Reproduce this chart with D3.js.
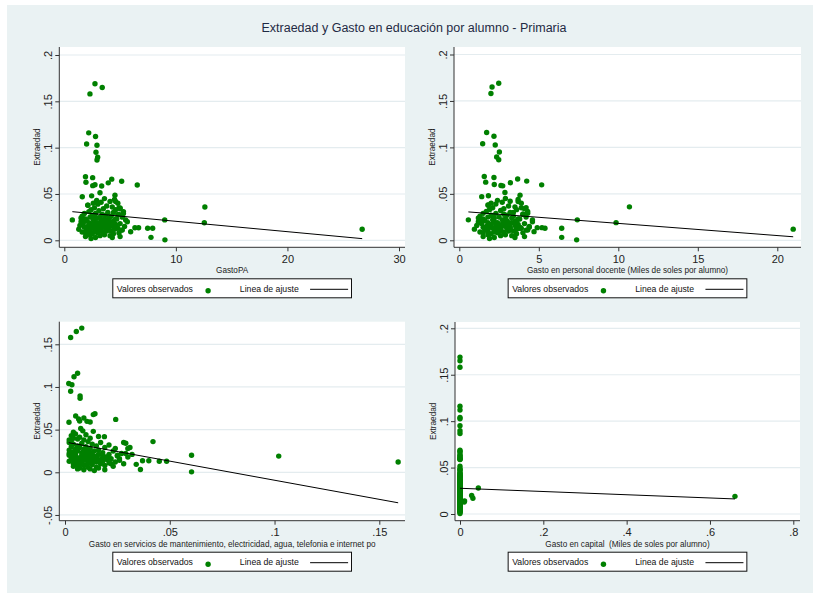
<!DOCTYPE html>
<html><head><meta charset="utf-8">
<script src="https://cdn.jsdelivr.net/npm/d3@7"></script>
<style>
body{margin:0;background:#fff}
svg{display:block}
text{font-family:"Liberation Sans",Arial,Helvetica,sans-serif;white-space:pre}
</style>
</head><body>
<svg id="chart" width="813" height="593"></svg>
<script>
// ---------------- DATA ----------------
const chartTitle = "Extraedad y Gasto en educación por alumno - Primaria";
const yTitle = "Extraedad";
const xTitles = [
  "GastoPA",
  "Gasto en personal docente (Miles de soles por alumno)",
  "Gasto en servicios de mantenimiento, electricidad, agua, telefonia e internet po",
  "Gasto en capital  (Miles de soles por alumno)"
];
const legendLabels = ["Valores observados", "Linea de ajuste"];

const xTicks1 = [0, 10, 20, 30];
const xTicks2 = [0, 5, 10, 15, 20];
const xTicks3 = [0, 0.05, 0.1, 0.15];
const xTicks4 = [0, 0.2, 0.4, 0.6, 0.8];
const yTicksA = [0, 0.05, 0.1, 0.15, 0.2];
const yTicksB = [-0.05, 0, 0.05, 0.1, 0.15];

// Extraedad (y) – shared by the four panels
const extraedad = [
 0.169,0.165,0.158,0.116,0.112,0.104,0.1026,0.095,0.0896,0.0867,
 0.0687,0.0676,0.066,0.0637,0.0626,0.062,0.0597,0.060,0.0586,0.059,
 0.047,0.048,0.0486,0.0514,0.0378,0.036,0.022,0.022,0.019,0.012,
 0.013,0.013,0.0032,0.0005,0.020,0.028,0.020,0.017,0.013,0.0093,
 0.0136,0.0136,0.035,0.034,0.029,0.0418,0.014,
 0.045,0.044,0.043,0.042,0.041,0.040,0.040,0.039,0.038,0.037,
 0.036,0.035,0.035,0.034,0.033,0.033,0.032,0.031,0.031,0.030,
 0.030,0.029,0.029,0.028,0.028,0.027,0.027,0.026,0.026,0.025,
 0.025,0.025,0.024,0.024,0.023,0.023,0.023,0.022,0.022,0.022,
 0.021,0.021,0.021,0.020,0.020,0.020,0.019,0.019,0.019,0.018,
 0.018,0.018,0.017,0.017,0.017,0.016,0.016,0.016,0.015,0.015,
 0.015,0.015,0.014,0.014,0.014,0.013,0.013,0.013,0.013,0.012,
 0.012,0.012,0.011,0.011,0.011,0.010,0.010,0.010,0.009,0.009,
 0.009,0.008,0.008,0.008,0.007,0.007,0.006,0.006,0.005,0.005,
 0.004,0.004,0.003,0.003,0.002,
 0.026,0.019,0.014,0.021,0.017,0.012,0.023,0.016,0.011,0.018,
 0.020,0.015,0.013,0.024,0.010
];

// GastoPA
const gastoPA = [
 2.75,3.40,2.30,2.19,2.80,2.00,2.93,2.84,2.99,2.93,
 1.90,2.54,4.25,5.14,1.94,3.94,6.54,2.75,3.35,2.55,
 1.61,2.45,4.54,3.20,2.12,12.6,0.72,9.00,12.55,26.7,
 7.47,7.92,7.77,9.02,5.65,4.80,4.00,3.50,4.50,5.95,
 6.33,6.66,4.9,5.0,5.3,4.6,4.7,
 3.6,4.5,2.9,4.1,3.3,2.6,4.8,3.0,2.1,3.8,
 4.3,2.7,5.0,3.5,2.4,4.6,3.1,5.3,2.2,3.9,
 4.4,1.8,2.8,3.4,4.9,2.5,3.7,4.2,1.6,3.2,
 5.2,2.3,4.0,2.9,3.6,1.9,4.7,2.6,3.3,5.5,
 2.0,3.8,4.4,1.5,2.7,3.5,4.1,2.2,3.0,5.0,
 1.7,3.9,2.5,4.6,3.2,1.4,2.8,4.3,3.6,2.1,
 5.4,3.4,2.4,4.0,1.8,3.1,4.8,2.6,3.7,1.3,
 2.9,4.5,3.3,2.0,5.1,3.8,2.3,4.2,1.6,3.5,
 2.7,4.9,3.0,1.9,4.4,2.5,3.6,2.2,4.1,3.2,
 1.9,5.0,2.8,4.3,2.4,
 2.6,3.9,4.7,1.7,3.4,2.1,4.6,3.1,5.2,2.9,
 3.7,2.3,4.0,1.5,3.3
];

// Gasto en personal docente
const gastoDocente = [
 2.48,2.06,1.99,1.72,2.18,1.47,2.26,2.52,2.35,2.48,
 1.57,2.18,3.67,4.24,1.66,3.21,5.18,2.20,2.73,2.62,
 1.41,1.83,3.82,2.87,1.83,10.7,0.57,7.42,9.86,21.0,
 6.44,5.39,6.44,7.38,4.60,4.00,3.50,3.00,3.80,4.70,
 5.20,4.90,3.9,4.1,4.3,3.7,4.4,
 2.9,3.7,2.4,3.2,2.7,2.0,3.9,2.3,1.8,3.1,
 3.5,2.1,4.2,2.8,1.9,3.6,2.6,4.3,1.7,3.2,
 3.4,1.5,2.3,2.8,4.0,2.0,3.0,3.4,1.3,2.5,
 4.2,1.8,3.3,2.2,2.9,1.5,3.8,2.1,2.7,4.6,
 1.6,3.0,3.6,1.2,2.2,2.8,3.3,1.8,2.4,4.1,
 1.4,3.1,2.0,3.7,2.5,1.1,2.3,3.5,2.9,1.7,
 4.4,2.7,1.9,3.2,1.5,2.5,3.9,2.1,3.0,0.95,
 2.3,3.6,2.6,1.6,4.2,3.1,1.8,3.4,1.3,2.8,
 2.2,4.0,2.4,1.5,3.6,2.0,2.9,1.8,3.3,2.6,
 1.5,4.1,2.2,3.5,1.9,
 2.1,3.1,3.8,1.4,2.7,1.7,3.7,2.5,4.3,2.3,
 3.0,1.8,3.2,1.2,2.6
];

// Gasto en servicios
const gastoServicios = [
 0.0080,0.0054,0.0027,0.0060,0.0043,0.0018,0.0033,0.0027,0.0072,0.0072,
 0.0143,0.0135,0.0051,0.0090,0.0065,0.0242,0.0105,0.0070,0.0019,0.0120,
 0.0040,0.0135,0.0085,0.0075,0.0020,0.042,0.0020,0.0290,0.102,0.159,
 0.045,0.0485,0.036,0.0604,0.0604,0.030,0.025,0.020,0.015,0.034,
 0.040,0.037,0.028,0.029,0.031,0.0188,0.012,
 0.005,0.010,0.003,0.016,0.007,0.004,0.012,0.006,0.009,0.003,
 0.011,0.002,0.017,0.008,0.013,0.004,0.021,0.006,0.015,0.010,
 0.003,0.019,0.007,0.024,0.012,0.005,0.009,0.016,0.002,0.014,
 0.006,0.023,0.011,0.004,0.018,0.008,0.013,0.003,0.027,0.010,
 0.005,0.016,0.021,0.002,0.012,0.008,0.025,0.014,0.004,0.019,
 0.009,0.030,0.006,0.015,0.011,0.003,0.022,0.007,0.017,0.013,
 0.004,0.020,0.009,0.026,0.014,0.006,0.018,0.002,0.011,0.024,
 0.008,0.015,0.005,0.021,0.012,0.017,0.004,0.028,0.010,0.007,
 0.013,0.006,0.019,0.009,0.004,0.023,0.011,0.015,0.007,0.016,
 0.012,0.006,0.019,0.009,0.014,
 0.010,0.018,0.005,0.032,0.008,0.013,0.003,0.026,0.006,0.020,
 0.011,0.004,0.017,0.009,0.022
];

// Gasto en capital
const gastoCapital = [
 0,0,0,0,0,0,0,0,0,0,
 0,0,0,0,0,0,0,0,0,0,
 0,0,0,0,0,0,0,0,0.66,0,
 0,0,0,0,0,0.044,0.028,0.031,0.010,0,
 0,0,0,0,0,0,0.011,
 0,0,0,0,0,0,0,0,0,0,
 0,0,0,0,0,0,0,0,0,0,
 0,0,0,0,0,0,0,0,0,0,
 0,0,0,0,0,0,0,0,0,0,
 0,0,0,0,0,0,0,0,0,0,
 0,0,0,0,0,0,0,0,0,0,
 0,0,0,0,0,0,0,0,0,0,
 0,0,0,0,0,0,0,0,0,0,
 0,0,0,0,0,0,0,0,0,0,
 0,0,0,0,0,
 0,0,0,0,0,0,0,0,0,0,
 0,0,0,0,0
];

// Linear fit (intercept, slope) per panel
const fitIntercept = [0.0317, 0.0313, 0.0355, 0.0277];
const fitSlope = [-0.00112, -0.00131, -0.448, -0.0174];

// ---------------- LAYOUT ----------------
const panels = [
  {xs: gastoPA, xt: xTicks1, yt: yTicksA, title: xTitles[0],
   frame: {x0: 59.3, x1: 405, y0: 47, y1: 247.3},
   xa: [[0, 30], [64.3, 399]], ya: [[0, 0.2], [240.3, 55]]},
  {xs: gastoDocente, xt: xTicks2, yt: yTicksA, title: xTitles[1],
   frame: {x0: 454, x1: 801, y0: 47, y1: 247.3},
   xa: [[0, 20], [459.3, 777.3]], ya: [[0, 0.2], [240.3, 54.5]]},
  {xs: gastoServicios, xt: xTicks3, yt: yTicksB, title: xTitles[2],
   frame: {x0: 59.3, x1: 405, y0: 321.7, y1: 520.7},
   xa: [[0, 0.15], [65, 379.3]], ya: [[0, 0.15], [472.3, 344.3]]},
  {xs: gastoCapital, xt: xTicks4, yt: yTicksA, title: xTitles[3],
   frame: {x0: 455, x1: 800, y0: 322, y1: 520.7},
   xa: [[0, 0.8], [460, 793.3]], ya: [[0, 0.2], [514, 328.3]]}
];

const GREEN = "#008000";
const fmt = d => d === 0 ? "0" : String(+d.toFixed(4)).replace("0.", ".");

const svg = d3.select("#chart");
svg.append("rect").attr("x", 7).attr("y", 5).attr("width", 806).attr("height", 588)
  .attr("fill", "#eaf2f3");

svg.append("text").attr("x", 414).attr("y", 32).attr("text-anchor", "middle")
  .attr("font-size", 12.5).attr("fill", "#1f2a44").text(chartTitle);

panels.forEach((p, k) => {
  const f = p.frame;
  const x = d3.scaleLinear().domain(p.xa[0]).range(p.xa[1]);
  const y = d3.scaleLinear().domain(p.ya[0]).range(p.ya[1]);
  const g = svg.append("g");

  g.append("rect").attr("x", f.x0).attr("y", f.y0)
    .attr("width", f.x1 - f.x0).attr("height", f.y1 - f.y0).attr("fill", "#fff");

  // grid
  g.selectAll(".grid").data(p.yt).join("line")
    .attr("x1", f.x0).attr("x2", f.x1)
    .attr("y1", d => y(d)).attr("y2", d => y(d))
    .attr("stroke", "#e4ecef").attr("stroke-width", 1.2);

  // points
  const pts = d3.range(extraedad.length).map(i => ({x: p.xs[i], y: extraedad[i]}));
  g.selectAll(".pt").data(pts).join("circle")
    .attr("cx", d => x(d.x)).attr("cy", d => y(d.y)).attr("r", 2.7)
    .attr("fill", GREEN);

  // fit line
  const ext = d3.extent(p.xs);
  const fitPts = ext.map(v => [v, fitIntercept[k] + fitSlope[k] * v]);
  g.append("path").attr("d", d3.line().x(d => x(d[0])).y(d => y(d[1]))(fitPts))
    .attr("stroke", "#000").attr("stroke-width", 1).attr("fill", "none");

  // y axis
  const ya = g.append("g").attr("transform", `translate(${f.x0},0)`)
    .call(d3.axisLeft(y).tickValues(p.yt).tickSize(4).tickFormat(fmt));
  ya.select(".domain").remove();
  ya.selectAll(".tick line").attr("stroke", "#333");
  ya.selectAll(".tick text").attr("x", null).attr("dy", null)
    .attr("text-anchor", "middle").attr("transform", "translate(-7,0) rotate(-90)")
    .attr("font-size", 11).attr("font-family", null).attr("fill", "#222");
  g.append("line").attr("x1", f.x0).attr("x2", f.x0).attr("y1", f.y0).attr("y2", f.y1)
    .attr("stroke", "#333").attr("stroke-width", 1);

  // x axis
  const xa = g.append("g").attr("transform", `translate(0,${f.y1})`)
    .call(d3.axisBottom(x).tickValues(p.xt).tickSize(4).tickPadding(4).tickFormat(fmt));
  xa.select(".domain").remove();
  xa.selectAll(".tick line").attr("stroke", "#333");
  xa.selectAll(".tick text").attr("font-size", 11).attr("font-family", null).attr("fill", "#222");
  g.append("line").attr("x1", f.x0).attr("x2", f.x1).attr("y1", f.y1).attr("y2", f.y1)
    .attr("stroke", "#333").attr("stroke-width", 1);

  const cx = (f.x0 + f.x1) / 2;
  const cy = (f.y0 + f.y1) / 2;

  // axis titles
  g.append("text").attr("x", cx).attr("y", f.y1 + 26).attr("text-anchor", "middle")
    .attr("font-size", 8.2).attr("fill", "#222").text(p.title);
  g.append("text").attr("transform", `translate(${f.x0 - 19},${cy}) rotate(-90)`)
    .attr("text-anchor", "middle").attr("font-size", 8.2).attr("fill", "#222").text(yTitle);

  // legend
  const lw = 238.7, lh = 19;
  const lx = cx - lw / 2, ly = f.y1 + 31.5;
  const lg = g.append("g").attr("transform", `translate(${lx},${ly})`);
  lg.append("rect").attr("width", lw).attr("height", lh).attr("fill", "#fff")
    .attr("stroke", "#111").attr("stroke-width", 1);
  lg.append("text").attr("x", 4).attr("y", 13).attr("font-size", 8.7).attr("fill", "#111")
    .text(legendLabels[0]);
  lg.append("circle").attr("cx", 95.3).attr("cy", 12).attr("r", 2.7).attr("fill", GREEN);
  lg.append("text").attr("x", 127).attr("y", 13).attr("font-size", 8.7).attr("fill", "#111")
    .text(legendLabels[1]);
  lg.append("line").attr("x1", 197.3).attr("x2", 235.3).attr("y1", 10.5).attr("y2", 10.5)
    .attr("stroke", "#000").attr("stroke-width", 1);
});
</script>
</body></html>
